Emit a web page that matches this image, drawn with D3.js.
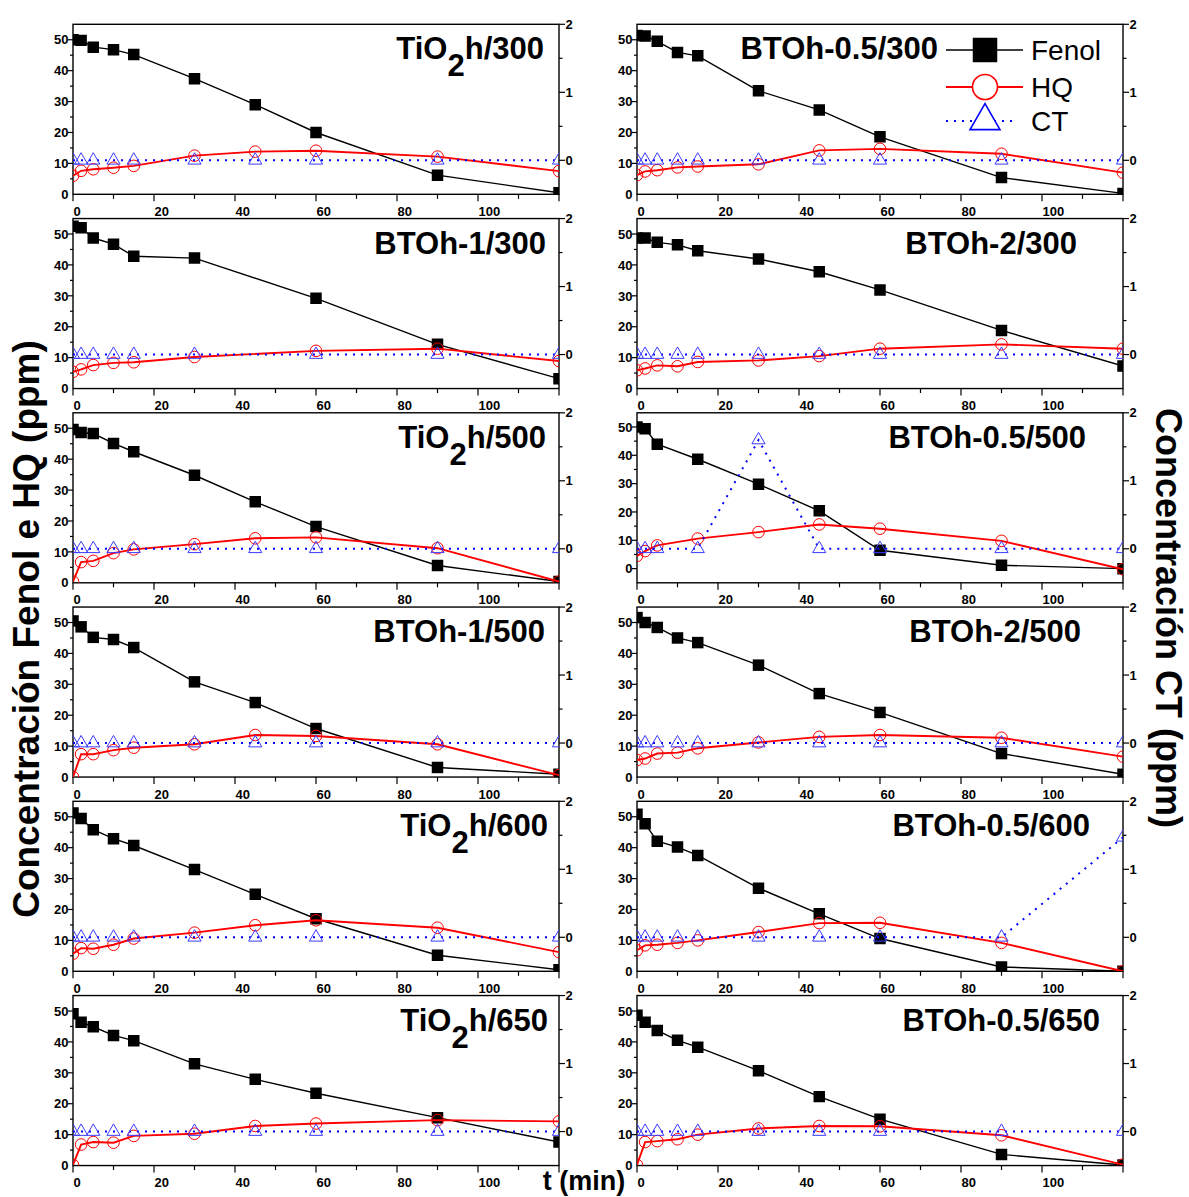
<!DOCTYPE html>
<html>
<head>
<meta charset="utf-8">
<script src="https://cdn.jsdelivr.net/npm/d3@7"></script>
<style>
  body { margin: 0; background: #fff; }
  svg { display: block; }
</style>
</head>
<body>
<svg id="chart" width="1189" height="1197"></svg>
<script>
// ---- data -------------------------------------------------------------
// sampling times (min)
const times = [0, 2, 5, 10, 15, 30, 45, 60, 90, 120];

// panels, row by row (left column, right column)
const panelTitles = [
  "TiO2h/300", "BTOh-0.5/300",
  "BTOh-1/300", "BTOh-2/300",
  "TiO2h/500", "BTOh-0.5/500",
  "BTOh-1/500", "BTOh-2/500",
  "TiO2h/600", "BTOh-0.5/600",
  "TiO2h/650", "BTOh-0.5/650"
];

// Fenol (ppm), left axis; null = not sampled
const fenolValues = [
  [50.0, 49.8, 47.6, 46.8, 45.2, 37.4, 29.0, 20.0, 6.2, 0.5],
  [51.4, 51.2, 49.5, 45.9, 44.8, 33.5, 27.3, 18.6, 5.4, 0.3],
  [52.5, 52.0, 48.7, 46.7, 42.8, 42.2, null, 29.2, 14.3, 3.2],
  [48.7, 48.7, 47.3, 46.5, 44.6, 41.9, 37.8, 31.9, 18.8, 7.3],
  [49.6, 48.6, 48.3, 45.1, 42.4, 34.8, 26.2, 18.2, 5.6, 0.4],
  [50.0, 49.4, 43.9, null, 38.6, 29.8, 20.4, 6.5, 1.2, 0.0],
  [50.5, 48.6, 45.2, 44.5, 41.9, 30.8, 24.1, 15.7, 3.1, 0.9],
  [51.6, 50.0, 48.4, 45.0, 43.5, 36.2, 27.0, 20.9, 7.6, 0.9],
  [51.2, 49.4, 45.8, 42.9, 40.7, 32.9, 24.9, 17.0, 5.2, 0.5],
  [50.8, 47.7, 42.1, 40.2, 37.5, 26.9, 18.6, 10.6, 1.4, 0.0],
  [49.1, 46.4, 44.9, 42.1, 40.4, 32.9, 27.9, 23.4, 15.5, 7.6],
  [48.6, 46.4, 43.7, 40.5, 38.3, 30.7, 22.3, 15.0, 3.6, 0.2]
];

// HQ (ppm), left axis
const hqValues = [
  [6.0, 7.6, 8.1, 8.6, 9.2, 12.5, 13.8, 14.1, 12.2, 7.5],
  [6.2, 7.4, 7.8, 8.7, 9.0, 9.7, 14.2, 14.7, 13.1, 7.0],
  [5.4, 6.2, 7.6, 8.3, 8.5, 10.2, null, 12.2, 12.9, 8.9],
  [5.9, 6.5, 7.5, 7.2, 8.6, 9.1, 10.5, 12.9, 14.3, 12.9],
  [0.4, 6.7, 7.1, 9.6, 10.8, 12.5, 14.4, 14.7, 11.2, 0.4],
  [4.5, 6.2, 8.2, null, 10.6, 12.9, 15.6, 14.1, 9.8, -0.2],
  [0.0, 7.4, 7.4, 8.7, 9.5, 10.6, 13.6, 13.3, 10.6, 0.6],
  [5.5, 6.0, 7.6, 7.9, 9.3, 11.2, 13.0, 13.6, 12.7, 6.6],
  [5.7, 7.5, 7.3, 8.6, 10.6, 12.5, 14.9, 16.5, 14.1, 6.2],
  [6.8, 8.4, 8.6, 9.2, 10.0, 12.7, 15.6, 15.7, 9.2, 0.0],
  [0.2, 6.8, 7.6, 7.4, 9.6, 10.3, 12.8, 13.6, 14.7, 14.3],
  [0.2, 7.6, 7.9, 8.5, 10.0, 12.0, 12.8, 12.7, 9.8, 0.3]
];

// CT (ppm), right axis
const ctValues = [
  [0, 0, 0, 0, 0, 0, 0, 0, 0, 0],
  [0, 0, 0, 0, 0, 0, 0, 0, 0, 0],
  [0, 0, 0, 0, 0, 0, null, 0, 0, 0],
  [0, 0, 0, 0, 0, 0, 0, 0, 0, 0],
  [0, 0, 0, 0, 0, 0, 0, 0, 0, 0],
  [0, 0, 0, null, 0, 1.6, 0, 0, 0, 0],
  [0, 0, 0, 0, 0, 0, 0, 0, 0, 0],
  [0, 0, 0, 0, 0, 0, 0, 0, 0, 0],
  [0, 0, 0, 0, 0, 0, 0, 0, 0, 0],
  [0, 0, 0, 0, 0, 0, 0, 0, 0, 1.47],
  [0, 0, 0, 0, 0, 0, 0, 0, 0, 0],
  [0, 0, 0, 0, 0, 0, 0, 0, 0, 0]
];

const seriesNames = ["Fenol", "HQ", "CT"];
const leftAxisMin = [0, 0, 0, 0, 0, -5, 0, 0, 0, 0, 0, 0];
const leftAxisMax = 55;
const rightDomain = [-0.5, 2];
const xDomain = [0, 120];
const xTickLabels = [0, 20, 40, 60, 80, 100];
const leftTickLabels = [0, 10, 20, 30, 40, 50];
const rightTickLabels = [0, 1, 2];
const leftAxisTitle = "Concentración Fenol e HQ (ppm)";
const rightAxisTitle = "Concentración CT (ppm)";
const bottomAxisTitle = "t (min)";

// ---- layout -----------------------------------------------------------
const colLeft = [73, 637];
const plotW = 486, plotH = 170;
const rowTop0 = 24.3, rowPitch = 194.25;
const titleRightX = [544, 938, 546, 1077, 546, 1086, 545, 1081, 548, 1090, 548, 1100];

const FONT = "'Liberation Sans', Arial, Helvetica, sans-serif";
const colors = { fenol: "#000000", hq: "#ff0000", ctLine: "#0000ff", ctMark: "#3b3bff" };

const svg = d3.select("#chart");
svg.append("rect").attr("width", 1189).attr("height", 1197).attr("fill", "#fff");

const defs = svg.append("defs");
const sqSym = d3.symbol().type(d3.symbolSquare);
const triSym = d3.symbol().type(d3.symbolTriangle);

panelTitles.forEach((title, p) => {
  const row = Math.floor(p / 2), col = p % 2;
  const left = colLeft[col], top = rowTop0 + rowPitch * row;
  const right = left + plotW, bottom = top + plotH;

  const x = d3.scaleLinear().domain(xDomain).range([left, right]);
  const y = d3.scaleLinear().domain([leftAxisMin[p], leftAxisMax]).range([bottom, top]);
  const y2 = d3.scaleLinear().domain(rightDomain).range([bottom, top]);

  const g = svg.append("g").attr("class", "panel");
  const clipId = "clip" + p;
  defs.append("clipPath").attr("id", clipId)
    .append("rect").attr("x", left).attr("y", top).attr("width", plotW).attr("height", plotH);

  // ticks
  const axisG = g.append("g").attr("stroke", "#000").attr("stroke-width", 1.2);
  // bottom
  d3.range(0, 121, 10).forEach(v => {
    const major = v % 20 === 0;
    axisG.append("line").attr("x1", x(v)).attr("x2", x(v))
      .attr("y1", bottom).attr("y2", bottom + (major ? 7 : 4.5));
  });
  // left
  const lmin = leftAxisMin[p];
  d3.range(Math.ceil(lmin / 5) * 5, leftAxisMax + 0.01, 5).forEach(v => {
    if (v === lmin || v === leftAxisMax) return;
    const major = v % 10 === 0;
    axisG.append("line").attr("x1", left).attr("x2", left - (major ? 5 : 3))
      .attr("y1", y(v)).attr("y2", y(v));
  });
  // right
  [0, 0.5, 1, 1.5].forEach(v => {
    const major = Number.isInteger(v);
    axisG.append("line").attr("x1", right).attr("x2", right + (major ? 6 : 3.5))
      .attr("y1", y2(v)).attr("y2", y2(v));
  });
  axisG.append("line").attr("x1", right).attr("x2", right + 6).attr("y1", top).attr("y2", top);

  // frame
  g.append("rect").attr("x", left).attr("y", top).attr("width", plotW).attr("height", plotH)
    .attr("fill", "none").attr("stroke", "#000").attr("stroke-width", 1.4);

  // tick labels
  const lab = g.append("g").attr("font-family", FONT).attr("font-weight", "bold")
    .attr("font-size", 13).attr("fill", "#000");
  xTickLabels.forEach(v => {
    lab.append("text").attr("x", x(v) + 0.5).attr("y", bottom + 21.5)
      .attr("text-anchor", "start").text(v);
  });
  leftTickLabels.forEach(v => {
    lab.append("text").attr("x", left - 4.5).attr("y", y(v)).attr("dy", "0.36em")
      .attr("text-anchor", "end").text(v);
  });
  rightTickLabels.forEach(v => {
    lab.append("text").attr("x", right + 6.5).attr("y", y2(v)).attr("dy", "0.36em")
      .attr("text-anchor", "start").text(v);
  });

  // series
  const plot = g.append("g").attr("clip-path", `url(#${clipId})`);
  const pts = vals => times.map((t, i) => ({ t, v: vals[i] })).filter(d => d.v != null);

  const fen = pts(fenolValues[p]);
  const hq = pts(hqValues[p]);
  const ct = pts(ctValues[p]);

  const lineL = d3.line().x(d => x(d.t)).y(d => y(d.v));
  const lineR = d3.line().x(d => x(d.t)).y(d => y2(d.v));

  plot.append("path").datum(fen).attr("d", lineL)
    .attr("fill", "none").attr("stroke", colors.fenol).attr("stroke-width", 1.4);
  plot.selectAll(".sq").data(fen).join("path")
    .attr("d", sqSym.size(132)()).attr("transform", d => `translate(${x(d.t)},${y(d.v)})`)
    .attr("fill", colors.fenol);

  plot.append("path").datum(hq).attr("d", lineL)
    .attr("fill", "none").attr("stroke", colors.hq).attr("stroke-width", 1.9);
  plot.selectAll(".ci").data(hq).join("circle")
    .attr("cx", d => x(d.t)).attr("cy", d => y(d.v)).attr("r", 5.8)
    .attr("fill", "none").attr("stroke", colors.hq).attr("stroke-width", 1);

  plot.append("path").datum(ct).attr("d", lineR)
    .attr("fill", "none").attr("stroke", colors.ctLine).attr("stroke-width", 2)
    .attr("stroke-dasharray", "2 6");
  plot.selectAll(".tr").data(ct).join("path")
    .attr("d", triSym.size(75)()).attr("transform", d => `translate(${x(d.t)},${y2(d.v)})`)
    .attr("fill", "none").attr("stroke", colors.ctMark).attr("stroke-width", 1);

  // panel title (TiO2 gets a subscript 2)
  const t = g.append("text").attr("x", titleRightX[p]).attr("y", top + 35)
    .attr("text-anchor", "end").attr("font-family", FONT).attr("font-weight", "bold")
    .attr("font-size", 31).attr("fill", "#000");
  const m = title.match(/^TiO2(.*)$/);
  if (m) {
    t.append("tspan").text("TiO");
    t.append("tspan").attr("dy", 17).text("2");
    t.append("tspan").attr("dy", -17).text(m[1]);
  } else {
    t.text(title);
  }
});

// ---- legend (top-right panel) -----------------------------------------
const leg = svg.append("g").attr("font-family", FONT).attr("font-size", 28).attr("fill", "#000");
const legX1 = 946, legX2 = 1023, legMid = 985, legText = 1031;
const legRows = [50, 87, 121];
// Fenol
leg.append("line").attr("x1", legX1).attr("x2", legX2).attr("y1", legRows[0]).attr("y2", legRows[0])
  .attr("stroke", colors.fenol).attr("stroke-width", 1.5);
leg.append("path").attr("d", sqSym.size(600)()).attr("transform", `translate(${legMid},${legRows[0]})`)
  .attr("fill", colors.fenol);
// HQ
leg.append("line").attr("x1", legX1).attr("x2", legX2).attr("y1", legRows[1]).attr("y2", legRows[1])
  .attr("stroke", colors.hq).attr("stroke-width", 2);
leg.append("circle").attr("cx", legMid).attr("cy", legRows[1]).attr("r", 12.5)
  .attr("fill", "#fff").attr("stroke", colors.hq).attr("stroke-width", 1.6);
// CT
leg.append("line").attr("x1", legX1).attr("x2", legX2 - 8).attr("y1", legRows[2]).attr("y2", legRows[2])
  .attr("stroke", colors.ctLine).attr("stroke-width", 2).attr("stroke-dasharray", "2 6");
leg.append("path").attr("d", triSym.size(390)()).attr("transform", `translate(${legMid},${legRows[2]})`)
  .attr("fill", "#fff").attr("stroke", colors.ctLine).attr("stroke-width", 1.6);
seriesNames.forEach((s, i) => {
  leg.append("text").attr("x", legText).attr("y", legRows[i]).attr("dy", "0.36em").text(s);
});

// ---- axis titles ------------------------------------------------------
const at = svg.append("g").attr("font-family", FONT).attr("font-weight", "bold").attr("fill", "#000");
at.append("text").attr("transform", "translate(39,629) rotate(-90)")
  .attr("text-anchor", "middle").attr("font-size", 37).text(leftAxisTitle);
at.append("text").attr("transform", "translate(1156,618) rotate(90)")
  .attr("text-anchor", "middle").attr("font-size", 36).text(rightAxisTitle);
at.append("text").attr("x", 584).attr("y", 1190)
  .attr("text-anchor", "middle").attr("font-size", 27).text(bottomAxisTitle);
</script>
</body>
</html>
